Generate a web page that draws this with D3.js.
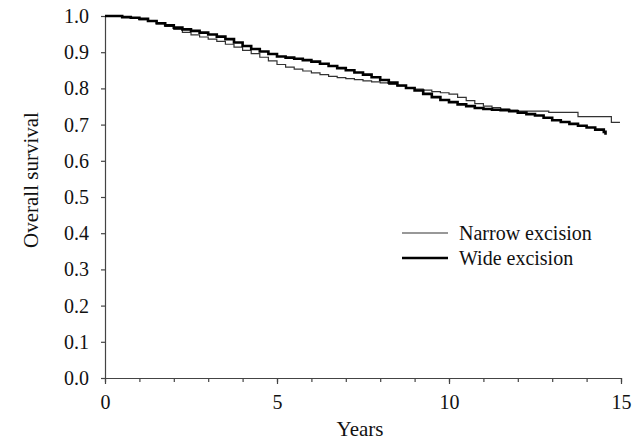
<!DOCTYPE html>
<html>
<head>
<meta charset="utf-8">
<script src="https://cdn.jsdelivr.net/npm/d3@7/dist/d3.min.js"></script>
<style>
	body { margin: 0; background: #fff; }
	svg text { font-family: 'Liberation Serif', 'DejaVu Serif', serif; fill: #111; }
</style>
</head>
<body>
<svg id="chart" width="641" height="441"></svg>
<script>
// survival curves: [years, proportion surviving]
const narrowExcision = [
	[0, 1.0], [0.25, 1.0], [0.5, 0.997], [0.75, 0.994], [1.0, 0.99], [1.25, 0.985],
	[1.5, 0.978], [1.75, 0.971], [2.0, 0.963], [2.25, 0.955], [2.5, 0.948], [2.75, 0.942],
	[3.0, 0.936], [3.25, 0.93], [3.5, 0.922], [3.75, 0.914], [4.0, 0.905], [4.25, 0.896],
	[4.5, 0.886], [4.75, 0.876], [5.0, 0.866], [5.25, 0.859], [5.5, 0.853], [5.75, 0.848],
	[6.0, 0.843], [6.25, 0.838], [6.5, 0.833], [6.75, 0.83], [7.0, 0.827], [7.25, 0.824],
	[7.5, 0.821], [7.75, 0.818], [8.0, 0.815], [8.25, 0.811], [8.5, 0.807], [8.75, 0.802],
	[9.0, 0.798], [9.25, 0.795], [9.5, 0.791], [9.75, 0.788], [10.0, 0.784], [10.25, 0.775],
	[10.5, 0.766], [10.75, 0.758], [11.0, 0.751], [11.25, 0.747], [11.5, 0.743], [11.75, 0.74],
	[12.0, 0.737], [12.9, 0.734], [13.75, 0.722], [14.72, 0.706], [14.97, 0.706]
];
const wideExcision = [
	[0, 1.0], [0.25, 1.0], [0.5, 0.997], [0.75, 0.995], [1.0, 0.992], [1.25, 0.986],
	[1.5, 0.98], [1.75, 0.974], [2.0, 0.968], [2.25, 0.963], [2.5, 0.959], [2.75, 0.954],
	[3.0, 0.949], [3.25, 0.943], [3.5, 0.936], [3.75, 0.927], [4.0, 0.917], [4.25, 0.909],
	[4.5, 0.902], [4.75, 0.895], [5.0, 0.888], [5.25, 0.885], [5.5, 0.882], [5.75, 0.878],
	[6.0, 0.874], [6.25, 0.868], [6.5, 0.862], [6.75, 0.856], [7.0, 0.85], [7.25, 0.844],
	[7.5, 0.838], [7.75, 0.831], [8.0, 0.823], [8.25, 0.816], [8.5, 0.808], [8.75, 0.801],
	[9.0, 0.794], [9.25, 0.785], [9.5, 0.776], [9.75, 0.768], [10.0, 0.762], [10.25, 0.756],
	[10.5, 0.751], [10.75, 0.746], [11.0, 0.743], [11.25, 0.741], [11.5, 0.74], [11.75, 0.737],
	[12.0, 0.733], [12.25, 0.729], [12.5, 0.725], [12.75, 0.719], [13.0, 0.712], [13.25, 0.707],
	[13.5, 0.702], [13.75, 0.697], [14.0, 0.692], [14.25, 0.686], [14.5, 0.68], [14.55, 0.672]
];
const seriesNames = ['Narrow excision', 'Wide excision'];
const xMajorTicks = [0, 5, 10, 15];
const yTicks = [0, 0.1, 0.2, 0.3, 0.4, 0.5, 0.6, 0.7, 0.8, 0.9, 1.0];

const margin = { top: 16, right: 20, bottom: 63, left: 105 };
const width = 641 - margin.left - margin.right;
const height = 441 - margin.top - margin.bottom;

const svg = d3.select('#chart');
const g = svg.append('g').attr('transform', `translate(${margin.left},${margin.top})`);

const x = d3.scaleLinear().domain([0, 15]).range([0, width]);
const y = d3.scaleLinear().domain([0, 1]).range([height, 0]);

// x axis: minor yearly ticks, then labelled majors
const xMinor = g.append('g')
	.attr('transform', `translate(0,${height})`)
	.call(d3.axisBottom(x).tickValues(d3.range(0, 16)).tickSize(4).tickSizeOuter(0).tickFormat(''));
const xAxis = g.append('g')
	.attr('transform', `translate(0,${height})`)
	.call(d3.axisBottom(x).tickValues(xMajorTicks).tickSize(6).tickSizeOuter(0).tickPadding(11));

const yAxis = g.append('g')
	.call(d3.axisLeft(y).tickValues(yTicks).tickSize(4).tickSizeOuter(0).tickPadding(12)
		.tickFormat(d3.format('.1f')));

[xMinor, xAxis, yAxis].forEach($a => {
	$a.selectAll('path, line').attr('stroke', '#444').attr('stroke-width', 1.2);
	$a.selectAll('text').style('font-size', '20px').attr('fill', '#111');
});

// axis titles
g.append('text')
	.attr('x', width / 2 - 3)
	.attr('y', height + 58)
	.attr('text-anchor', 'middle')
	.style('font-size', '21px')
	.text('Years');

g.append('text')
	.attr('transform', `translate(${-67},${height / 2 - 17}) rotate(-90)`)
	.attr('text-anchor', 'middle')
	.style('font-size', '21px')
	.text('Overall survival');

const line = d3.line()
	.x(d => x(d[0]))
	.y(d => y(d[1]))
	.curve(d3.curveStepAfter);

const styles = [
	{ stroke: '#333', width: 1.2 },
	{ stroke: '#000', width: 2.6 }
];

[narrowExcision, wideExcision].forEach((data, i) => {
	g.append('path')
		.datum(data)
		.attr('fill', 'none')
		.attr('stroke', styles[i].stroke)
		.attr('stroke-width', styles[i].width)
		.attr('d', line);
});

// legend
const legend = g.append('g').attr('transform', `translate(${297},${217})`);
seriesNames.forEach((name, i) => {
	const row = legend.append('g').attr('transform', `translate(0,${i * 25})`);
	row.append('line')
		.attr('x1', 0).attr('x2', 46)
		.attr('stroke', styles[i].stroke)
		.attr('stroke-width', styles[i].width);
	row.append('text')
		.attr('x', 57)
		.attr('dy', '0.35em')
		.style('font-size', '20px')
		.text(name);
});
</script>
</body>
</html>
